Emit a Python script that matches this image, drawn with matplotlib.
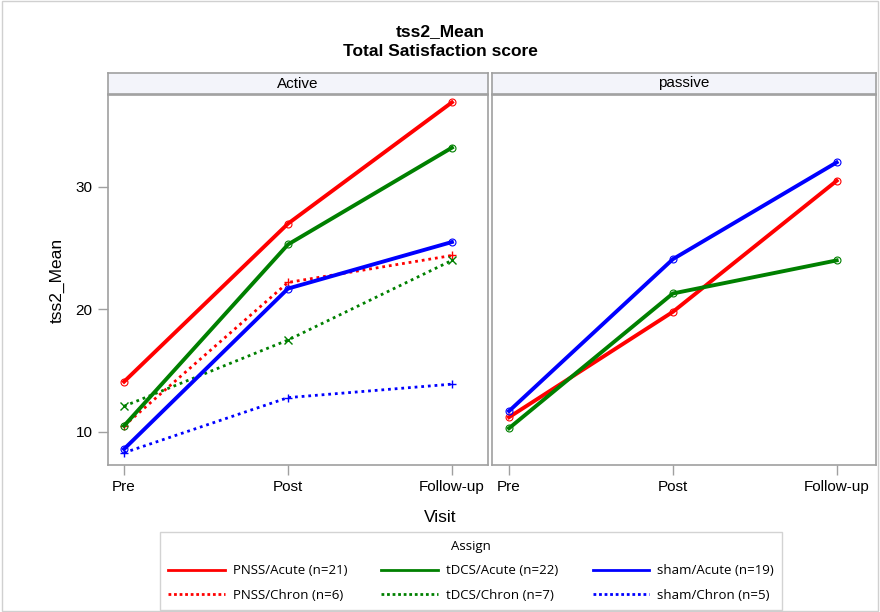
import matplotlib
matplotlib.use("Agg")
import matplotlib.pyplot as plt
from matplotlib.lines import Line2D
from matplotlib.patches import Rectangle

plt.rcParams['font.family'] = ['Liberation Sans', 'DejaVu Sans']

visits = ['Pre', 'Post', 'Follow-up']

# Active panel
pnss_acute_act = [14.1, 27.0, 36.9]
tdcs_acute_act = [10.5, 25.3, 33.2]
sham_acute_act = [8.6, 21.7, 25.5]
pnss_chron_act = [10.5, 22.2, 24.4]
tdcs_chron_act = [12.1, 17.5, 24.0]
sham_chron_act = [8.3, 12.8, 13.9]

# passive panel
pnss_acute_pas = [11.2, 19.8, 30.5]
tdcs_acute_pas = [10.3, 21.3, 24.0]
sham_acute_pas = [11.7, 24.1, 32.0]

RED, GREEN, BLUE = '#ff0000', '#008000', '#0000ff'
GRAY = '#a0a0a0'

fig = plt.figure(figsize=(8.8, 6.12), dpi=100)
fig.patches.append(Rectangle((0.002, 0.002), 0.996, 0.996, transform=fig.transFigure,
                             fill=False, edgecolor='#d0d0d0', lw=1))

fig.text(0.5, 1 - 32 / 612, 'tss2_Mean', ha='center', va='center', fontsize=12.5, fontweight='bold')
fig.text(0.5, 1 - 52 / 612, 'Total Satisfaction score', ha='center', va='center', fontsize=12.5, fontweight='bold')

ax1 = fig.add_axes([108 / 880, 1 - 465 / 612, 380 / 880, 370 / 612])
ax2 = fig.add_axes([492 / 880, 1 - 465 / 612, 384 / 880, 370 / 612], sharey=ax1)

x = range(len(visits))


def acute(ax, y, c):
    ax.plot(x, y, color=c, lw=2.8, marker='o', ms=5, mfc='none', mec=c, mew=0.8)


def chron(ax, y, c, m):
    ax.plot(x, y, color=c, lw=2.0, ls=(0, (1, 1.4)), marker=m, ms=6, mec=c, mew=1)


chron(ax1, pnss_chron_act, RED, '+')
chron(ax1, tdcs_chron_act, GREEN, 'x')
chron(ax1, sham_chron_act, BLUE, '+')
acute(ax1, pnss_acute_act, RED)
acute(ax1, tdcs_acute_act, GREEN)
acute(ax1, sham_acute_act, BLUE)

acute(ax2, pnss_acute_pas, RED)
acute(ax2, tdcs_acute_pas, GREEN)
acute(ax2, sham_acute_pas, BLUE)

ax1.set_xlim(-0.098, 2.22)
ax2.set_xlim(-0.104, 2.24)
ax1.set_ylim(7.3, 37.5)
ax1.set_yticks([10, 20, 30])

for ax in (ax1, ax2):
    ax.set_xticks(list(x))
    ax.set_xticklabels(visits, fontsize=11)
    for s in ax.spines.values():
        s.set_color(GRAY)
        s.set_linewidth(1.2)
    ax.tick_params(axis='both', direction='out', color=GRAY, length=7, width=1, labelsize=11, pad=4)
ax2.tick_params(axis='y', left=False, labelleft=False)

ax1.set_ylabel('tss2_Mean', fontsize=12.5, labelpad=8)
fig.text(0.5, 1 - 518 / 612, 'Visit', ha='center', va='center', fontsize=12.5)

# panel headers
for left, w, name in [(108, 380, 'Active'), (492, 384, 'passive')]:
    sax = fig.add_axes([left / 880, 1 - 94 / 612, w / 880, 21 / 612])
    sax.set_facecolor('#f3f4fa')
    sax.set_xticks([])
    sax.set_yticks([])
    for s in sax.spines.values():
        s.set_color(GRAY)
        s.set_linewidth(1.2)
    sax.text(0.5, 0.5, name, ha='center', va='center', fontsize=11, transform=sax.transAxes)

labels = ['PNSS/Acute (n=21)', 'PNSS/Chron (n=6)', 'tDCS/Acute (n=22)',
          'tDCS/Chron (n=7)', 'sham/Acute (n=19)', 'sham/Chron (n=5)']
handles = [
    Line2D([], [], color=RED, lw=2),
    Line2D([], [], color=RED, lw=2, ls=(0, (1, 1))),
    Line2D([], [], color=GREEN, lw=2),
    Line2D([], [], color=GREEN, lw=2, ls=(0, (1, 1))),
    Line2D([], [], color=BLUE, lw=2),
    Line2D([], [], color=BLUE, lw=2, ls=(0, (1, 1))),
]
leg = fig.legend(handles, labels, ncol=3, loc='center', bbox_to_anchor=(471 / 880, 1 - 571 / 612),
                 title='Assign', frameon=True, fancybox=False,
                 edgecolor='#c8c8c8', handlelength=4.3, columnspacing=2.6, borderpad=0.6,
                 handletextpad=0.6, labelspacing=0.85, prop={'family': 'Open Sans', 'size': 9.5})
leg.get_title().set_fontproperties({'family': 'Open Sans', 'size': 9.5})
leg.get_frame().set_linewidth(1)

fig.savefig('out.png', dpi=100)
